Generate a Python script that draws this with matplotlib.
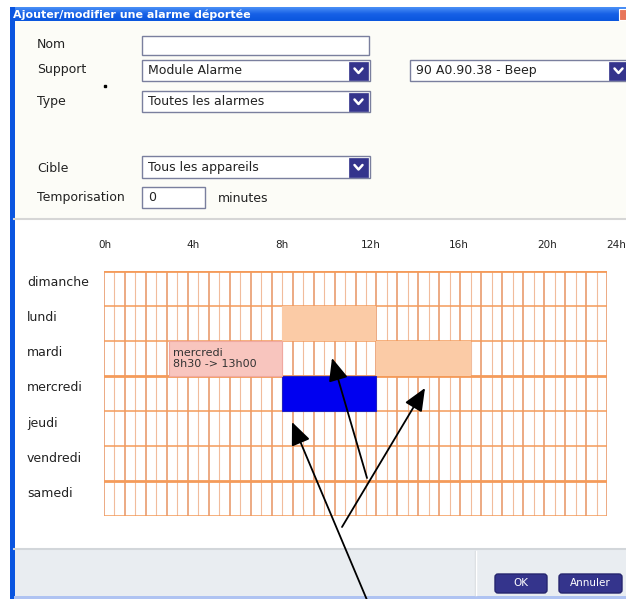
import numpy as np
import matplotlib.pyplot as plt
from matplotlib.patches import Rectangle, FancyBboxPatch
from matplotlib.colors import LinearSegmentedColormap

W, H = 626, 599

# --- donnees ---
days = ['dimanche', 'lundi', 'mardi', 'mercredi', 'jeudi', 'vendredi', 'samedi']
hour_ticks = [0, 4, 8, 12, 16, 20, 24]

# plages deja definies (index du jour, debut, fin en heures)
plage_days = [1, 2]
plage_start = [8.5, 13.0]
plage_end = [13.0, 17.5]

# plage selectionnee
sel_day = 3
sel_start = 8.5
sel_end = 13.0
sel_label = 'mercredi\n8h30 -> 13h00'

# bulle d'info
tip_day = 2
tip_start = 3.1
tip_end = 8.5

form_labels = ['Nom', 'Support', 'Type', 'Cible', 'Temporisation']
form_values = ['', 'Module Alarme', 'Toutes les alarmes', 'Tous les appareils', '0']
device_value = '90 A0.90.38 - Beep'
unit_label = 'minutes'
title = 'Ajouter/modifier une alarme déportée'
buttons = ['OK', 'Annuler']

FONT = 'DejaVu Sans'
FS = 9
BORDER = '#7A7F9E'
BTN = '#34348C'


def field(ax, x, y, w, h, text, combo=False):
    ax.add_patch(Rectangle((x, y), w, h, facecolor='white', edgecolor=BORDER, lw=1.0))
    ax.text(x + 6, y + h / 2, text, fontsize=FS, family=FONT, va='center', ha='left', color='#222222')
    if combo:
        bx = x + w - 21
        ax.add_patch(Rectangle((bx, y + 1.5), 19, h - 3, facecolor=BTN, edgecolor=BTN, lw=0.5))
        cx, cy = bx + 9.5, y + h / 2
        ax.plot([cx - 4, cx, cx + 4], [cy - 2, cy + 2.5, cy - 2], color='white', lw=1.8,
                solid_capstyle='round')


fig = plt.figure(figsize=(W / 100, H / 100), dpi=100)
ax = fig.add_axes([0, 0, 1, 1])
ax.set_xlim(0, W)
ax.set_ylim(H, 0)
ax.axis('off')

# fond de la fenetre
ax.add_patch(Rectangle((0, 0), W, H, facecolor='white', edgecolor='none'))
ax.add_patch(Rectangle((14, 21), W - 14, 197, facecolor='#FCFCF7', edgecolor='none'))
ax.plot([14, W], [218.5, 218.5], color='#D6D6D6', lw=1.5)
ax.add_patch(Rectangle((14, 549), W - 14, 47, facecolor='#E9EDF1', edgecolor='none'))
ax.plot([14, W], [548.5, 548.5], color='#D2D6DA', lw=1.5)
ax.plot([475, 475], [551, 595], color='#D6DADE', lw=1)
ax.plot([476, 476], [551, 595], color='white', lw=1)

# barre de titre
grad = np.linspace(0, 1, 30).reshape(-1, 1)
cmap = LinearSegmentedColormap.from_list('xp', ['#4A90F6', '#1660E6', '#0A56DE'])
ax.imshow(grad, cmap=cmap, extent=[10, W, 21, 7], aspect='auto', zorder=1)
ax.text(13, 14.5, title, color='white', fontsize=8, family=FONT, fontweight='bold',
        va='center', ha='left', zorder=2)
ax.add_patch(Rectangle((619, 9), 10, 11, facecolor='#E8765A', edgecolor='white', lw=0.8, zorder=2))

# bords bleus
ax.add_patch(Rectangle((10, 7), 4.5, H - 7, facecolor='#0A55E0', edgecolor='none'))
ax.add_patch(Rectangle((14, 596), W - 14, 3, facecolor='#AFC3F2', edgecolor='none'))

# formulaire
label_y = [45, 70, 101, 168, 198]
for lab, ly in zip(form_labels, label_y):
    ax.text(37, ly, lab, fontsize=FS, family=FONT, va='center', ha='left', color='#222222')
field(ax, 142, 36, 227, 19, form_values[0])
field(ax, 142, 60, 228, 21, form_values[1], combo=True)
field(ax, 142, 91, 228, 21, form_values[2], combo=True)
field(ax, 142, 156, 228, 22, form_values[3], combo=True)
field(ax, 142, 187, 63, 21, form_values[4])
ax.text(218, 198, unit_label, fontsize=FS, family=FONT, va='center', ha='left', color='#222222')
field(ax, 410, 60, 220, 21, device_value, combo=True)
ax.plot([105], [86], marker='s', ms=1.5, color='black')

# boutons
for bx, bw, lab in zip([495, 559], [52, 63], buttons):
    ax.add_patch(FancyBboxPatch((bx, 574), bw, 19, boxstyle='round,pad=0,rounding_size=3',
                                facecolor=BTN, edgecolor='#25256E', lw=1))
    ax.text(bx + bw / 2, 583.5, lab, color='white', fontsize=7.5, family=FONT,
            va='center', ha='center')

# jours
for i, d in enumerate(days):
    ax.text(27, 282 + i * 35.3, d, fontsize=FS, family=FONT, va='center', ha='left', color='#222222')

# --- grille horaire ---
g = fig.add_axes([104 / W, 1 - 516 / H, 503 / W, 245 / H])
g.set_xlim(0, 24)
g.set_ylim(len(days), 0)
g.axis('off')
g.set_facecolor('none')

for k in range(49):
    hx = k * 0.5
    if k % 2 == 0:
        g.axvline(hx, color='#EBA47A', lw=1.3, zorder=1)
    else:
        g.axvline(hx, color='#F1BC9C', lw=0.8, zorder=1)
for r in range(len(days) + 1):
    lw = 2.0 if r in (0, 3, 6) else 1.1
    g.axhline(r, color='#F49B5A', lw=lw, zorder=1)

widths = [e - s for s, e in zip(plage_start, plage_end)]
g.barh(plage_days, widths, left=plage_start, height=1, align='edge',
       color='#FBCBA6', edgecolor='none', zorder=3)
g.barh([sel_day], [sel_end - sel_start], left=[sel_start], height=1, align='edge',
       color='#0000F0', edgecolor='#2020C0', lw=0.8, zorder=3)
g.barh([tip_day], [tip_end - tip_start], left=[tip_start], height=1, align='edge',
       color='#F8C5BE', edgecolor='#F0A8A0', lw=0.8, zorder=4)
g.text(tip_start + 0.2, tip_day + 0.5, sel_label, fontsize=8, family=FONT,
       va='center', ha='left', color='#333333', linespacing=1.15, zorder=5)

# heures (les libelles sont un peu decales par rapport a la grille)
for h in hour_ticks:
    hx = min(h * 1.055 + 0.05, 24.9)
    g.text(hx, -0.75, f'{h}h', fontsize=7.5, family=FONT, va='center',
           ha='right' if h == hour_ticks[-1] else 'center',
           color='#222222', clip_on=False)

# --- fleches ---
ov = fig.add_axes([0, 0, 1, 1])
ov.set_xlim(0, W)
ov.set_ylim(H, 0)
ov.axis('off')
ov.patch.set_alpha(0)
arrow = dict(arrowstyle='-|>,head_length=0.7,head_width=0.3', color='black', lw=1.3,
             mutation_scale=20, shrinkA=0, shrinkB=0)
ov.annotate('', xy=(292, 422), xytext=(367, 600), arrowprops=arrow)
ov.annotate('', xy=(332, 358), xytext=(367, 478), arrowprops=arrow)
ov.annotate('', xy=(425, 388), xytext=(342, 527), arrowprops=arrow)

fig.savefig('out.png', dpi=100)
